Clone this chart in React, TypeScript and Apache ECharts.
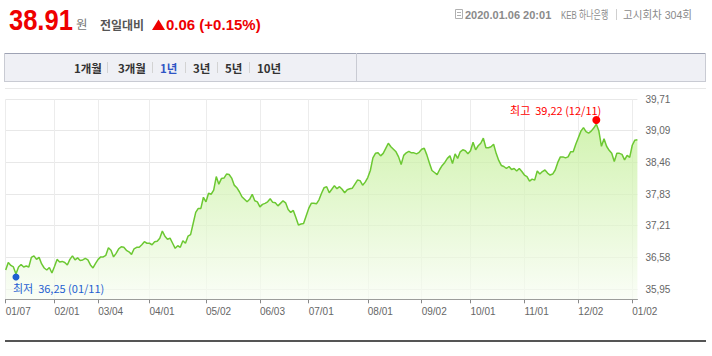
import React, { useEffect, useRef } from 'react';
import * as echarts from 'echarts';

// ---- calendar (KEB Hana notice days) ----
const startDate = '2019-01-07';
const endDate = '2020-01-06';
const holidays = [
  '2019-02-04', '2019-02-05', '2019-02-06', '2019-03-01', '2019-05-01', '2019-05-06',
  '2019-06-06', '2019-08-15', '2019-09-12', '2019-09-13', '2019-10-03', '2019-10-09',
  '2019-12-25', '2020-01-01',
];

// ---- rates by month ----
const jan19 = [36.33, 36.48, 36.42, 36.39, 36.25, 36.39, 36.44, 36.39, 36.41, 36.39, 36.58, 36.61, 36.54, 36.58, 36.45, 36.37, 36.33, 36.38, 36.27];
const feb19 = [36.40, 36.54, 36.49, 36.50, 36.48, 36.43, 36.54, 36.61, 36.53, 36.57, 36.52, 36.53, 36.56, 36.53, 36.43, 36.37, 36.46];
const mar19 = [36.54, 36.59, 36.59, 36.62, 36.77, 36.72, 36.59, 36.66, 36.75, 36.79, 36.78, 36.72, 36.69, 36.64, 36.75, 36.78, 36.78, 36.83, 36.89, 36.86];
const apr19 = [36.86, 36.83, 36.89, 36.90, 36.96, 37.10, 37.00, 36.94, 36.96, 36.86, 36.76, 36.81, 36.78, 36.91, 36.86, 37.00, 37.03, 37.25, 37.47, 37.55, 37.55, 37.77];
const may19 = [37.68, 37.85, 37.83, 37.91, 38.18, 38.03, 38.14, 38.15, 38.23, 38.22, 38.15, 38.01, 37.96, 37.88, 37.78, 37.73, 37.68, 37.73, 37.83, 37.70, 37.68];
const jun19 = [37.58, 37.63, 37.65, 37.68, 37.74, 37.67, 37.66, 37.60, 37.65, 37.70, 37.66, 37.53, 37.47, 37.51, 37.37, 37.22, 37.24, 37.25, 37.40];
const jul19 = [37.55, 37.65, 37.65, 37.64, 37.72, 37.85, 37.96, 37.98, 37.86, 37.93, 38.00, 37.94, 37.98, 37.93, 37.86, 37.92, 37.94, 37.95, 38.03, 38.11, 38.10, 38.01, 38.07];
const aug19 = [38.16, 38.30, 38.55, 38.64, 38.65, 38.59, 38.64, 38.74, 38.84, 38.77, 38.72, 38.67, 38.57, 38.42, 38.60, 38.65, 38.68, 38.65, 38.65, 38.63, 38.66];
const sep19 = [38.72, 38.74, 38.61, 38.45, 38.30, 38.26, 38.22, 38.32, 38.40, 38.46, 38.54, 38.59, 38.44, 38.63, 38.54, 38.67, 38.71, 38.69, 38.63];
const oct19 = [38.69, 38.86, 38.71, 38.79, 38.84, 38.94, 38.75, 38.75, 38.77, 38.82, 38.64, 38.50, 38.40, 38.38, 38.34, 38.38, 38.32, 38.34, 38.29, 38.34, 38.28];
const nov19 = [38.21, 38.18, 38.09, 38.13, 38.11, 38.29, 38.23, 38.28, 38.31, 38.25, 38.21, 38.23, 38.31, 38.46, 38.57, 38.57, 38.55, 38.57, 38.67, 38.67, 38.82];
const dec19 = [38.95, 39.08, 39.15, 39.07, 39.04, 39.08, 39.14, 39.22, 39.08, 38.78, 38.93, 38.78, 38.70, 38.64, 38.48, 38.64, 38.64, 38.62, 38.51, 38.60, 38.56];
const jan20 = [38.80, 38.90, 38.91];

// ---- axis ticks ----
const xTickLabels = ['01/07', '02/01', '03/04', '04/01', '05/02', '06/03', '07/01', '08/01', '09/02', '10/01', '11/01', '12/02', '01/02'];
const yTickLabels = ['35,95', '36,58', '37,21', '37,83', '38,46', '39,09', '39,71'];
const yAxisMin = 35.75;
const yAxisMax = 39.71;

// ---- header texts ----
const currentRate = '38.91';
const changeText = '0.06 (+0.15%)';
const timeText = '2020.01.06 20:01';
const bankText = 'KEB 하나은행';
const roundText = '고시회차 304회';
const periodTabs = ['1개월', '3개월', '1년', '3년', '5년', '10년'];

const FONT = "'Liberation Sans', 'Noto Sans CJK KR', sans-serif";
const KFONT = "'Noto Sans CJK KR', 'Liberation Sans', sans-serif";

function buildDates(): string[] {
  const out: string[] = [];
  const [sy, sm, sd] = startDate.split('-').map(Number);
  const [ey, em, ed] = endDate.split('-').map(Number);
  const d = new Date(Date.UTC(sy, sm - 1, sd));
  const end = Date.UTC(ey, em - 1, ed);
  while (d.getTime() <= end) {
    const dow = d.getUTCDay();
    const iso = d.toISOString().slice(0, 10);
    if (dow !== 0 && dow !== 6 && !holidays.includes(iso)) {
      out.push(iso.slice(5, 7) + '/' + iso.slice(8, 10));
    }
    d.setUTCDate(d.getUTCDate() + 1);
  }
  return out;
}

export default function App() {
  const ref = useRef<HTMLDivElement>(null);

  useEffect(() => {
    if (!ref.current) return;
    const chart = echarts.init(ref.current, undefined, { renderer: 'svg' });
    const dates = buildDates();
    const rates = [...jan19, ...feb19, ...mar19, ...apr19, ...may19, ...jun19, ...jul19, ...aug19, ...sep19, ...oct19, ...nov19, ...dec19, ...jan20];
    const yTickValues = yTickLabels.map((s) => parseFloat(s.replace(',', '.')));
    const fmt = (v: number) => v.toFixed(2).replace('.', ',');
    let maxIdx = 0;
    let minIdx = 0;
    rates.forEach((v, i) => {
      if (v > rates[maxIdx]) maxIdx = i;
      if (v < rates[minIdx]) minIdx = i;
    });
    const maxText = `최고  ${fmt(rates[maxIdx])} (${dates[maxIdx]})`;
    const minText = `최저  ${fmt(rates[minIdx])} (${dates[minIdx]})`;
    const showTick = (_i: number, v: string) => xTickLabels.includes(v);

    const txt = (x: number, y: number, text: string, o: any = {}) => ({
      type: 'text',
      x,
      y,
      silent: true,
      scaleX: o.scaleX ?? 1,
      style: {
        text,
        fill: o.fill ?? '#333',
        fontSize: o.fontSize ?? 12,
        fontFamily: o.fontFamily ?? FONT,
        fontWeight: o.fontWeight ?? 'normal',
        align: o.align ?? 'left',
        textAlign: o.align ?? 'left',
        verticalAlign: 'middle',
        textVerticalAlign: 'middle',
      },
    });
    const ln = (x1: number, y1: number, x2: number, y2: number, stroke: string, lineWidth = 1) => ({
      type: 'line',
      silent: true,
      shape: { x1, y1, x2, y2 },
      style: { stroke, lineWidth },
    });

    const tabX = [74, 118, 160, 193, 225, 257];
    const sepX = [107.5, 152.5, 185.5, 217.5, 249.5];

    const graphics: any[] = [
      // header
      txt(9, 20, currentRate, { fill: '#ee0000', fontSize: 29, fontWeight: 'bold', scaleX: 0.88 }),
      txt(76, 23.5, '원', { fill: '#777', fontSize: 12.5, fontFamily: KFONT }),
      txt(100, 24.5, '전일대비', { fill: '#555', fontSize: 12, fontWeight: 'bold', fontFamily: KFONT }),
      {
        type: 'polygon',
        silent: true,
        shape: { points: [[152, 30], [158.5, 19.5], [165, 30]] },
        style: { fill: '#ee0000' },
      },
      txt(166, 24.5, changeText, { fill: '#ee0000', fontSize: 15, fontWeight: 'bold' }),
      // right header
      { type: 'rect', silent: true, shape: { x: 455.5, y: 9.5, width: 7, height: 9 }, style: { fill: 'none', stroke: '#b0b0b0', lineWidth: 1 } },
      ln(457, 12.5, 461, 12.5, '#b0b0b0'),
      ln(457, 15.5, 461, 15.5, '#b0b0b0'),
      txt(465, 14.5, timeText, { fill: '#8a8a8a', fontSize: 11, fontWeight: 'bold' }),
      txt(561, 14.5, bankText, { fill: '#8a8a8a', fontSize: 11, scaleX: 0.72 }),
      ln(616.5, 9, 616.5, 20, '#cfcfcf'),
      txt(623, 14.5, roundText, { fill: '#8a8a8a', fontSize: 11, scaleX: 0.96 }),
      // tabs box
      { type: 'rect', silent: true, shape: { x: 4, y: 53, width: 702, height: 29 }, style: { fill: '#eff0f5' } },
      ln(4, 53.5, 706, 53.5, '#9ea3b4'),
      ln(4, 81.5, 706, 81.5, '#c9cbd3'),
      ln(4.5, 53, 4.5, 82, '#c9cbd3'),
      ln(705.5, 53, 705.5, 82, '#c9cbd3'),
      ln(356.5, 53, 356.5, 82, '#c9cbd3'),
      ...periodTabs.map((t, i) =>
        txt(tabX[i], 67.5, t, { fill: i === 2 ? '#2f55c5' : '#333', fontSize: 11.5, fontWeight: 'bold', fontFamily: KFONT })
      ),
      ...sepX.map((x) => ln(x, 62, x, 73, '#d3d3d3')),
      // chart frame
      ln(5, 88.5, 706, 88.5, '#e8e8e8'),
      ln(5, 341, 706, 341, '#555', 2),
    ];

    chart.setOption({
      animation: false,
      backgroundColor: '#ffffff',
      grid: { left: 5.7, right: 74.6, top: 99.3, bottom: 56.7, containLabel: false, outerBoundsMode: 'none' },
      xAxis: {
        type: 'category',
        data: dates,
        boundaryGap: false,
        axisLine: { show: true, lineStyle: { color: '#888', width: 1 } },
        axisTick: { show: true, length: 4, interval: showTick, lineStyle: { color: '#888' } },
        axisLabel: {
          show: true,
          interval: showTick,
          align: 'left',
          margin: 7,
          color: '#666',
          fontSize: 10,
          fontFamily: FONT,
        },
        splitLine: { show: true, interval: showTick, lineStyle: { color: '#ececec', width: 1 } },
      },
      yAxis: {
        type: 'value',
        position: 'right',
        min: yAxisMin,
        max: yAxisMax,
        scale: true,
        axisLine: { show: false },
        axisTick: { show: false, customValues: yTickValues },
        axisLabel: {
          show: true,
          customValues: yTickValues,
          margin: 8,
          color: '#666',
          fontSize: 10,
          fontFamily: FONT,
          formatter: (v: number) => fmt(v),
        },
        splitLine: { show: true, lineStyle: { color: '#e8e8e8', width: 1 } },
      },
      series: [
        {
          type: 'line',
          data: rates,
          symbol: 'none',
          smooth: false,
          lineStyle: { color: '#6cc832', width: 1.5 },
          areaStyle: {
            color: new echarts.graphic.LinearGradient(0, 0, 0, 1, [
              { offset: 0, color: '#bfee90' },
              { offset: 1, color: '#f8fdf3' },
            ]),
          },
          markPoint: {
            silent: true,
            animation: false,
            data: [
              {
                type: 'max',
                symbol: 'circle',
                symbolSize: 8,
                symbolOffset: [0, -4],
                itemStyle: { color: '#ff0000' },
                label: {
                  show: true,
                  position: 'top',
                  distance: 1,
                  align: 'right',
                  offset: [5, 0],
                  formatter: maxText,
                  color: '#ff0000',
                  fontSize: 11,
                  fontFamily: KFONT,
                },
              },
              {
                type: 'min',
                symbol: 'circle',
                symbolSize: 7,
                symbolOffset: [0, 3],
                itemStyle: { color: '#1f5fd1' },
                label: {
                  show: true,
                  position: 'bottom',
                  distance: 2,
                  align: 'left',
                  offset: [-3, 0],
                  formatter: minText,
                  color: '#1f5fd1',
                  fontSize: 11,
                  fontFamily: KFONT,
                },
              },
            ],
          },
        },
      ],
      graphic: graphics,
    });

    return () => chart.dispose();
  }, []);

  return (
    <div
      ref={ref}
      style={{ position: 'fixed', left: 0, top: 0, width: 712, height: 356, background: '#fff' }}
    />
  );
}
